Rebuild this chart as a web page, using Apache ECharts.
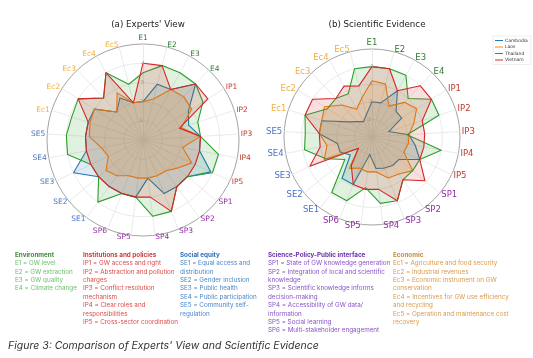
<!DOCTYPE html>
<html><head><meta charset="utf-8">
<script src="https://cdn.jsdelivr.net/npm/echarts@6/dist/echarts.min.js"></script>
<style>html,body{margin:0;padding:0;background:#fff}#c{width:533px;height:358px}</style>
</head><body><div id="c"></div>
<script>
const categories = ['E1','E2','E3','E4','IP1','IP2','IP3','IP4','IP5','SP1','SP2','SP3','SP4','SP5','SP6','SE1','SE2','SE3','SE4','SE5','Ec1','Ec2','Ec3','Ec4','Ec5'];
const countries = ['Cambodia','Laos','Thailand','Vietnam'];
// (a) Experts' View
const cambodiaA = [2, 3, 3, 4, 2.8, 2.5, 3, 3, 3.9, 3, 3, 3, 2, 3, 3, 3, 3, 4, 3, 3, 3, 3, 2, 2.5, 2];
const laosA     = [2, 2.2, 3, 3.1, 3, 2.1, 3, 2.1, 2.8, 2.3, 2, 2, 2, 2, 2, 2.3, 2.5, 2, 2.2, 2.8, 2.9, 3, 2, 2.8, 2];
const thailandA = [3.5, 4, 4, 4, 3.7, 3, 3, 4, 4, 3, 3, 4, 4, 3, 3, 4, 3, 3, 4, 4, 3.9, 4, 3, 4, 3];
const vietnamA  = [4, 4, 3, 4, 4, 2, 3, 3, 3, 3, 3, 4, 3, 3, 3, 3, 3, 3, 3, 3, 3, 4, 3, 4, 2];
// (b) Scientific Evidence
const cambodiaB = [2, 2, 3, 2, 2, 1, 2.1, 2.5, 3, 2, 2, 1.9, 1.8, 1, 2.9, 2.9, 1.6, 2, 2, 3, 3, 1.6, 1.2, 1, 1.3];
const laosB     = [3.2, 3.1, 2, 2.7, 3, 2.5, 2.1, 2.1, 2, 3, 2.6, 2.5, 2, 2, 1.9, 2.2, 1, 3, 2.6, 3, 3, 3.2, 2.5, 1.8, 2.3];
const thailandB = [4, 4, 4, 3, 4, 4, 2, 4, 3, 3, 3, 3.9, 3.8, 2.9, 3.9, 3.9, 2, 2.9, 3.9, 3.8, 4, 3, 3, 2.8, 4];
const vietnamB  = [4, 4, 3, 4, 4, 3, 3, 3, 3, 3.9, 3, 3.9, 3, 3, 2.9, 2, 1, 3.9, 3, 3, 4, 4, 3, 3.3, 3];
const radialTicks = [1, 2, 3, 4];

const seriesColors = ['#1f77b4','#ff7f0e','#2ca02c','#d62728'];
function groupColor(c){
  if (c.startsWith('IP')) return '#c0392b';
  if (c.startsWith('SP')) return '#8e2fa0';
  if (c.startsWith('SE')) return '#4a72c4';
  if (c.startsWith('Ec')) return '#f0b040';
  return '#2e7d32';
}
// ECharts radar runs counter-clockwise; reorder so that the chart reads clockwise
const order = [0]; for (let i = categories.length - 1; i >= 1; i--) order.push(i);
const reorder = arr => order.map(i => arr[i]);
const indicators = order.map(i => ({name: categories[i], max: 5, min: 0, color: groupColor(categories[i])}));

function radarComp(center, radius, fs){
  return {
    center: center, radius: radius, shape: 'circle', splitNumber: 5, startAngle: 90,
    indicator: indicators,
    axisName: {fontSize: fs, fontFamily: 'DejaVu Sans'},
    nameGap: 2,
    splitArea: {show: false},
    splitLine: {lineStyle: {color: ['#e4e4e4','#e4e4e4','#e4e4e4','#e4e4e4','#e4e4e4','#8a8a8a'], width: 0.8}},
    axisLine: {lineStyle: {color: '#e4e4e4', width: 0.8}},
    axisTick: {show: false}, axisLabel: {show: false}
  };
}
function dataItems(lists){
  return lists.map((vals, k) => ({
    name: countries[k], value: reorder(vals),
    lineStyle: {color: seriesColors[k], width: 1.1},
    itemStyle: {color: seriesColors[k]},
    areaStyle: {color: seriesColors[k], opacity: 0.15}
  }));
}
const chart = echarts.init(document.getElementById('c'), null, {renderer: 'canvas'});
const leftC = [143, 140], rightC = [372, 137];
const leftR = 96, rightR = 88;
const txt = (left, top, text, color, bold, fs, lh) => ({
  type: 'text', left: left, top: top,
  style: {text: text, fill: color, font: (bold ? 'bold ' : '') + fs + 'px Inter, "Noto Sans", sans-serif', lineHeight: lh}
});
const LH = 8.35, FS = 6.3, Y0 = 251;
chart.setOption({
  animation: false,
  color: seriesColors,
  title: [
    {text: "(a) Experts' View", left: 143, top: 15, textAlign: 'center', textStyle: {fontSize: 8.7, fontWeight: 'normal', color: '#222', fontFamily: 'DejaVu Sans'}},
    {text: '(b) Scientific Evidence', left: 372, top: 15, textAlign: 'center', textStyle: {fontSize: 8.7, fontWeight: 'normal', color: '#222', fontFamily: 'DejaVu Sans'}}
  ],
  legend: {
    data: countries, orient: 'vertical', left: 493, top: 36,
    itemWidth: 8, itemHeight: 1, itemGap: 1.5, icon: 'rect',
    textStyle: {fontSize: 4.5, color: '#333', fontFamily: 'DejaVu Sans', padding: [0,0,0,-3]},
    borderColor: '#ddd', borderWidth: 0.5, padding: [2, 3, 2, 2]
  },
  radar: [radarComp(leftC, leftR, 7.5), radarComp(rightC, rightR, 8.5)],
  polar: [{center: leftC, radius: leftR, z: 5}, {center: rightC, radius: rightR, z: 5}],
  angleAxis: [
    {polarIndex: 0, startAngle: 88, show: false, min: 0, max: 360},
    {polarIndex: 1, startAngle: 88, show: false, min: 0, max: 360}
  ],
  radiusAxis: [0, 1].map(p => ({
    polarIndex: p, min: 0, max: 5, interval: 1, z: 5,
    axisLine: {show: false}, axisTick: {show: false}, splitLine: {show: false},
    axisLabel: {color: '#999', fontSize: 5.5, margin: 1, fontFamily: 'DejaVu Sans',
      formatter: v => radialTicks.indexOf(v) >= 0 ? String(v) : ''}
  })),
  series: [
    {type: 'radar', radarIndex: 0, symbol: 'none', data: dataItems([cambodiaA, laosA, thailandA, vietnamA])},
    {type: 'radar', radarIndex: 1, symbol: 'none', data: dataItems([cambodiaB, laosB, thailandB, vietnamB])}
  ],
  graphic: [
    txt(15, Y0, 'Environment', '#3c8c3c', true, FS, LH),
    txt(15, Y0 + LH, 'E1 = GW level\nE2 = GW extraction\nE3 = GW quality\nE4 = Climate change', '#6cbf6c', false, FS, LH),
    txt(83, Y0, 'Institutions and policies', '#cf3a3a', true, FS, LH),
    txt(83, Y0 + LH, 'IP1 = GW access and right\nIP2 = Abstraction and pollution\ncharges\nIP3 = Conflict resolution\nmechanism\nIP4 = Clear roles and\nresponsibilities\nIP5 = Cross-sector coordination', '#dc4a4a', false, FS, LH),
    txt(180, Y0, 'Social equity', '#2f6fb8', true, FS, LH),
    txt(180, Y0 + LH, 'SE1 = Equal access and\ndistribution\nSE2 = Gender inclusion\nSE3 = Public health\nSE4 = Public participation\nSE5 = Community self-\nregulation', '#4a86c8', false, FS, LH),
    txt(268, Y0, 'Science-Policy-Public interface', '#6a2fa8', true, FS, LH),
    txt(268, Y0 + LH, 'SP1 = State of GW knowledge generation\nSP2 = Integration of local and scientific\nknowledge\nSP3 = Scientific knowledge informs\ndecision-making\nSP4 = Accessibility of GW data/\ninformation\nSP5 = Social learning\nSP6 = Multi-stakeholder engagement', '#8a52c8', false, FS, LH),
    txt(393, Y0, 'Economic', '#c98a3a', true, FS, LH),
    txt(393, Y0 + LH, 'Ec1 = Agriculture and food security\nEc2 = Industrial revenues\nEc3 = Economic instrument on GW\nconservation\nEc4 = Incentives for GW use efficiency\nand recycling\nEc5 = Operation and maintenance cost\nrecovery', '#d89a4a', false, FS, LH),
    {type: 'text', left: 8, top: 340, style: {text: "Figure 3: Comparison of Experts' View and Scientific Evidence", fill: '#333', font: 'italic 10.5px Inter, "Noto Sans", sans-serif'}}
  ]
});
</script></body></html>
